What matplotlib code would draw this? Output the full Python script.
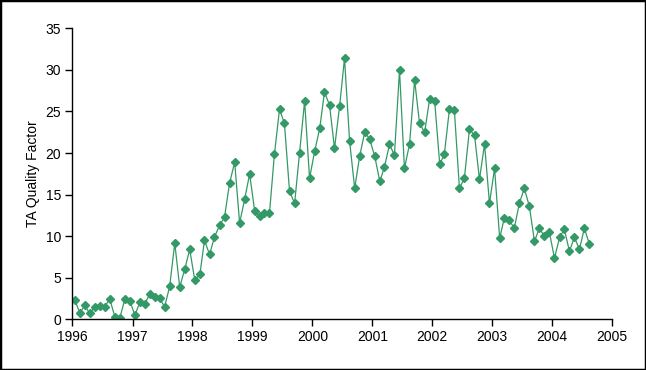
import matplotlib
matplotlib.use("Agg")
import matplotlib.pyplot as plt
import matplotlib.dates as mdates
import pandas as pd
from matplotlib.patches import Rectangle

plt.rcParams['font.family'] = ['Liberation Sans', 'DejaVu Sans']

start_month = "1996-01-15"
values = [
    2.32, 0.76, 1.68, 0.72, 1.44, 1.60, 1.52, 2.44, 0.32, 0.12, 2.44, 2.20,
    0.52, 2.04, 1.84, 3.00, 2.64, 2.56, 1.48, 3.96, 9.17, 3.88, 6.04, 8.40,
    4.72, 5.40, 9.50, 7.80, 9.90, 11.30, 12.27, 16.40, 18.90, 11.58, 14.47, 17.48,
    12.99, 12.39, 12.79, 12.79, 19.84, 25.26, 23.57, 15.40, 13.95, 19.97, 26.26, 16.96,
    20.20, 22.97, 27.34, 25.74, 20.56, 25.62, 31.39, 21.41, 15.76, 19.60, 22.49, 21.69,
    19.60, 16.60, 18.28, 21.05, 19.73, 29.95, 18.16, 21.05, 28.75, 23.57, 22.49, 26.46,
    26.26, 18.64, 19.84, 25.26, 25.17, 15.76, 16.96, 22.85, 22.13, 16.84, 21.05, 13.95,
    18.16, 9.74, 12.15, 11.90, 10.95, 13.95, 15.76, 13.59, 9.38, 10.95, 9.98, 10.46,
    7.34, 9.86, 10.83, 8.18, 9.86, 8.42, 10.95, 9.02,
]
dates = pd.date_range("1996-01-01", periods=len(values), freq="MS") + pd.Timedelta(days=14)
year_ticks = [str(y) for y in range(1996, 2006)]
y_label = "TA Quality Factor"

fig = plt.figure(figsize=(6.46, 3.70), dpi=100)
fig.patches.append(Rectangle((0, 0), 1, 1, transform=fig.transFigure, fill=False,
                             edgecolor="black", linewidth=2.5, zorder=10))
ax = fig.add_axes([0.1122, 0.137, 0.8356, 0.7865])

color = "#339966"
ax.plot(dates, values, color=color, linewidth=0.9, marker="D", markersize=4.5,
        markerfacecolor=color, markeredgecolor=color)

tick_dates = pd.to_datetime([f"{y}-01-01" for y in year_ticks])
ax.set_xlim(tick_dates[0], tick_dates[-1])
ax.set_xticks(tick_dates)
ax.set_xticklabels(year_ticks)
ax.set_ylim(0, 35)
ax.set_yticks(range(0, 36, 5))
ax.set_ylabel(y_label, fontsize=10)

for s in ["top", "right"]:
    ax.spines[s].set_visible(False)
for s in ["left", "bottom"]:
    ax.spines[s].set_linewidth(1.0)
ax.tick_params(direction="out", length=5, width=1, labelsize=10, pad=3)

fig.savefig("out.png", dpi=100)
